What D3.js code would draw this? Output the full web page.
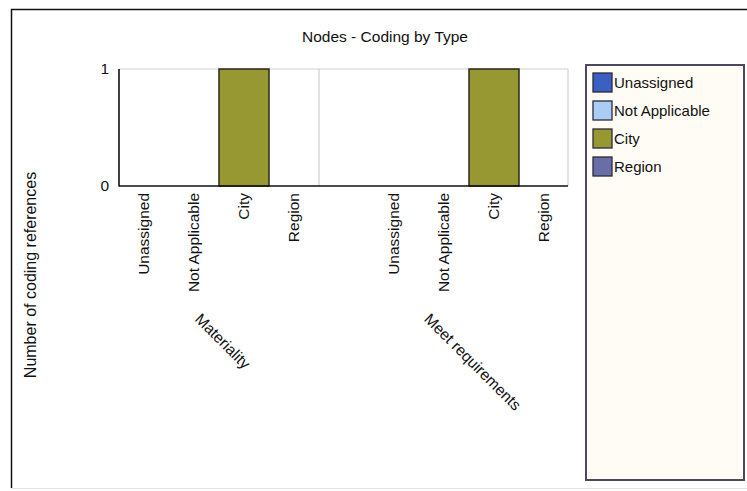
<!DOCTYPE html>
<html>
<head>
<meta charset="utf-8">
<script src="https://cdn.jsdelivr.net/npm/d3@7/dist/d3.min.js"></script>
<style>
  html, body { margin: 0; padding: 0; background: #ffffff; }
  svg { display: block; }
  text { font-family: "Liberation Sans", Arial, sans-serif; fill: #111; }
</style>
</head>
<body>
<script>
// Coding references per node, split by classification type
const title = "Nodes - Coding by Type";
const yTitle = "Number of coding references";
const groups = ["Materiality", "Meet requirements"];
const types = ["Unassigned", "Not Applicable", "City", "Region"];
const materialityValues = [0, 0, 1, 0];
const meetRequirementsValues = [0, 0, 1, 0];
const yTicks = [0, 1];
const typeColors = ["#3a60c4", "#a9cdf4", "#989833", "#6a6ea6"];

const seriesByGroup = [materialityValues, meetRequirementsValues];

const W = 747, H = 491;
const FS = "15.5px";
const svg = d3.select("body").append("svg").attr("width", W).attr("height", H);

// outer frame
svg.append("line").attr("x1", 11).attr("x2", W).attr("y1", 9.5).attr("y2", 9.5)
  .attr("stroke", "#111").attr("stroke-width", 1.5);
svg.append("line").attr("x1", 11.5).attr("x2", 11.5).attr("y1", 9).attr("y2", 488)
  .attr("stroke", "#111").attr("stroke-width", 1.5);
svg.append("line").attr("x1", 11).attr("x2", W).attr("y1", 488.5).attr("y2", 488.5)
  .attr("stroke", "#e4e4e8").attr("stroke-width", 1);

// slot layout: each group's types, with an empty slot before the second group
const slots = [];
groups.forEach((g, gi) => {
  if (gi > 0) slots.push("gap-" + gi);
  types.forEach(t => slots.push(g + "|" + t));
});

const plot = { left: 119, right: 568, top: 69, bottom: 186 };
const x = d3.scaleBand().domain(slots).range([plot.left, plot.right + 1]).padding(0);
const y = d3.scaleLinear().domain([0, 1]).range([plot.bottom, plot.top]);

// light grid: top value line, right edge, group divider
svg.append("line").attr("x1", plot.left).attr("x2", plot.right).attr("y1", y(1)).attr("y2", y(1))
  .attr("stroke", "#cfcfcf").attr("stroke-width", 1.2);
svg.append("line").attr("x1", plot.right).attr("x2", plot.right).attr("y1", plot.top).attr("y2", plot.bottom)
  .attr("stroke", "#cfcfcf").attr("stroke-width", 1.2);
const divX = x(groups[0] + "|" + types[types.length - 1]) + x.bandwidth();
svg.append("line").attr("x1", divX).attr("x2", divX).attr("y1", plot.top).attr("y2", plot.bottom)
  .attr("stroke", "#cfcfcf").attr("stroke-width", 1.2);

// bars
const barData = [];
groups.forEach((g, gi) => types.forEach((t, ti) => {
  barData.push({ group: g, type: t, value: seriesByGroup[gi][ti], color: typeColors[ti] });
}));
svg.append("g").selectAll("rect")
  .data(barData.filter(d => d.value > 0))
  .join("rect")
  .attr("x", d => x(d.group + "|" + d.type))
  .attr("width", x.bandwidth())
  .attr("y", d => y(d.value))
  .attr("height", d => y(0) - y(d.value))
  .attr("fill", d => d.color)
  .attr("stroke", "#2a2a1a")
  .attr("stroke-width", 1.5);

// axes
const yAxis = d3.axisLeft(y).tickValues(yTicks).tickSize(0).tickPadding(10).tickFormat(d3.format("d"));
const gy = svg.append("g").attr("transform", `translate(${plot.left},0)`).call(yAxis);
gy.select(".domain").remove();
gy.selectAll("text").style("font-size", FS).attr("fill", "#111");

svg.append("line").attr("x1", plot.left).attr("x2", plot.left).attr("y1", plot.top).attr("y2", plot.bottom + 0.5)
  .attr("stroke", "#111").attr("stroke-width", 1.6);
svg.append("line").attr("x1", plot.left).attr("x2", plot.right).attr("y1", plot.bottom).attr("y2", plot.bottom)
  .attr("stroke", "#111").attr("stroke-width", 1.6);

// category labels (vertical)
const catLabels = svg.append("g");
groups.forEach(g => types.forEach(t => {
  const cx = x(g + "|" + t) + x.bandwidth() / 2;
  catLabels.append("text")
    .attr("transform", `translate(${cx + 5},${plot.bottom + 7}) rotate(-90)`)
    .attr("text-anchor", "end")
    .style("font-size", FS)
    .text(t);
}));

// group labels (diagonal)
groups.forEach(g => {
  const first = x(g + "|" + types[0]);
  const last = x(g + "|" + types[types.length - 1]) + x.bandwidth();
  const cx = (first + last) / 2;
  const t = svg.append("text")
    .attr("text-anchor", "middle")
    .style("font-size", FS)
    .text(g);
  const len = t.node().getComputedTextLength();
  const half = len / 2 * Math.SQRT1_2;
  t.attr("transform", `translate(${cx},${320 + half}) rotate(45)`);
});

// y title
svg.append("text")
  .attr("transform", `translate(36,275) rotate(-90)`)
  .attr("text-anchor", "middle")
  .style("font-size", "16px")
  .text(yTitle);

// chart title
svg.append("text")
  .attr("x", 385).attr("y", 42)
  .attr("text-anchor", "middle")
  .style("font-size", "15.5px")
  .text(title);

// legend
const lg = svg.append("g");
lg.append("rect").attr("x", 586).attr("y", 65).attr("width", 158).attr("height", 415)
  .attr("fill", "#fffcf5").attr("stroke", "#4a4a5c").attr("stroke-width", 2);
types.forEach((t, i) => {
  const yy = 73 + i * 28;
  lg.append("rect").attr("x", 593).attr("y", yy).attr("width", 19).attr("height", 19)
    .attr("fill", typeColors[i]).attr("stroke", "#2a2a3a").attr("stroke-width", 1.3);
  lg.append("text").attr("x", 614).attr("y", yy + 15).style("font-size", "15px").text(t);
});
</script>
</body>
</html>
